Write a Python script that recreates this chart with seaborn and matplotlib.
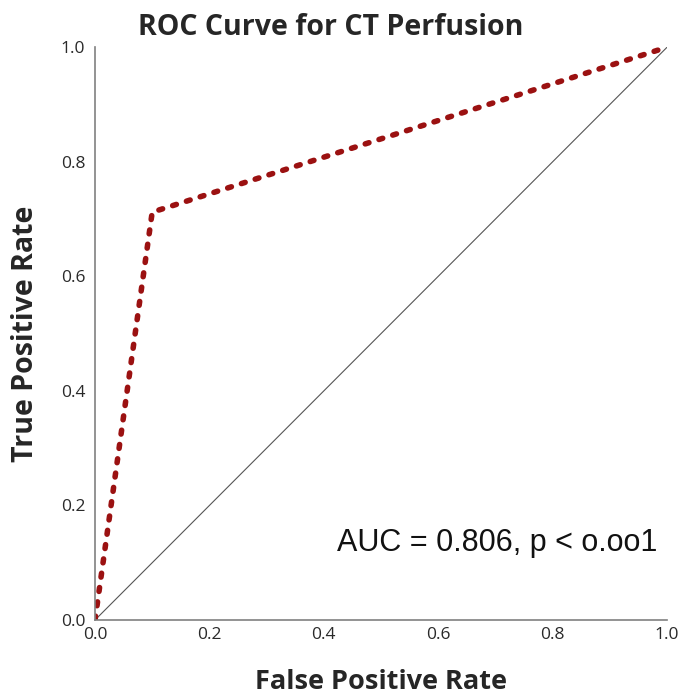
import numpy as np
import pandas as pd
import matplotlib
matplotlib.use("Agg")
import matplotlib.pyplot as plt
import seaborn as sns

# ROC points
fpr = [0.0, 0.1, 1.0]
tpr = [0.0, 0.712, 1.0]
ref_x = [0.0, 1.0]
ref_y = [0.0, 1.0]
ticks = [0.0, 0.2, 0.4, 0.6, 0.8, 1.0]
tick_labels = ["0.0", "0.2", "0.4", "0.6", "0.8", "1.0"]

sns.set_theme(style="white")
plt.rcParams["font.family"] = ["Open Sans", "DejaVu Sans"]

roc = pd.DataFrame({"fpr": fpr, "tpr": tpr})
ref = pd.DataFrame({"x": ref_x, "y": ref_y})

fig = plt.figure(figsize=(6.8, 6.94), dpi=100)
ax = fig.add_axes([0.1397, 0.1066, 0.8413, 0.8254])

sns.lineplot(data=ref, x="x", y="y", ax=ax, color="#555555", linewidth=0.8)
sns.lineplot(data=roc, x="fpr", y="tpr", ax=ax, color="#9b1111", linewidth=4)
roc_line = ax.lines[-1]
roc_line.set_linestyle((0, (0.7, 1.9)))
roc_line.set_dash_capstyle("round")

ax.set_xlim(0, 1)
ax.set_ylim(0, 1)
ax.set_xticks(ticks)
ax.set_xticklabels(tick_labels)
ax.set_yticks(ticks)
ax.set_yticklabels(tick_labels)
ax.tick_params(axis="both", length=0, labelsize=12.5, labelcolor="#2a2a2a")
ax.tick_params(axis="x", pad=5)
ax.tick_params(axis="y", pad=7)
for side in ["top", "right"]:
    ax.spines[side].set_visible(False)
for side in ["left", "bottom"]:
    ax.spines[side].set_color("#808080")
    ax.spines[side].set_linewidth(1.2)

ax.set_xlabel("False Positive Rate", fontsize=19.5, fontweight="bold", va="baseline")
ax.set_ylabel("True Positive Rate", fontsize=20.5, fontweight="bold", va="center")
ax.xaxis.set_label_coords(0.5, -0.121)
ax.yaxis.set_label_coords(-0.121, 0.5)
fig.text(0.487, 0.96, "ROC Curve for CT Perfusion", fontsize=20.5, fontweight="bold",
         ha="center", va="center")
ax.text(0.983, 0.134, "AUC = 0.806, p < o.oo1", transform=ax.transAxes,
        fontsize=22, family=["Liberation Sans", "DejaVu Sans"], ha="right", va="center",
        color="#111111")

fig.savefig("out.png", dpi=100)
